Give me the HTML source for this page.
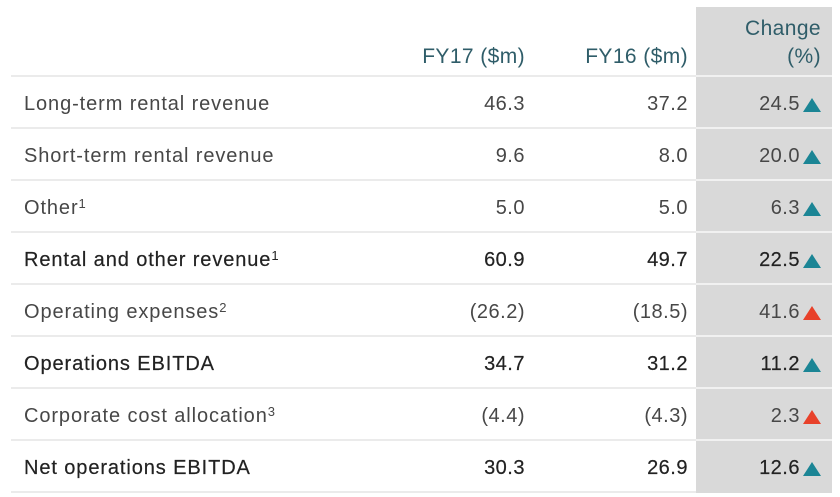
<!DOCTYPE html>
<html><head><meta charset="utf-8"><style>
html,body{margin:0;padding:0;background:#fff;}
body{width:840px;height:497px;position:relative;overflow:hidden;font-family:"Liberation Sans",sans-serif;}
.grey{position:absolute;left:696px;top:7px;width:136px;height:486px;background:#d9d9d9;}
.hl{position:absolute;left:11px;width:685px;height:2px;background:#ebebeb;}
.hlg{position:absolute;left:696px;width:136px;height:2px;background:#f1f1f1;}
.t{position:absolute;font-size:20px;letter-spacing:0.5px;white-space:nowrap;color:#474747;line-height:24px;}
.lab{left:24px;letter-spacing:0.9px;}
.v1{right:315px;text-align:right;}
.v2{right:152px;text-align:right;}
.v3{right:40px;text-align:right;}
.b{color:#222;-webkit-text-stroke:0.2px #222;}
.h{color:#2f5d69;font-size:21px;letter-spacing:0.4px;}
sup{font-size:13px;vertical-align:top;position:relative;top:-4px;letter-spacing:0;-webkit-text-stroke:0;}
svg.tri{position:absolute;left:803px;}
</style></head><body>
<div class="grey"></div>

<div class="t h v1" style="top:45px">FY17 ($m)</div>
<div class="t h v2" style="top:45px">FY16 ($m)</div>
<div class="t h" style="right:19px;top:17px;text-align:right;">Change</div>
<div class="t h" style="right:19px;top:45px;text-align:right;">(%)</div>

<div class="hl" style="top:75px"></div><div class="hlg" style="top:75px"></div>
<div class="hl" style="top:127px"></div><div class="hlg" style="top:127px"></div>
<div class="hl" style="top:179px"></div><div class="hlg" style="top:179px"></div>
<div class="hl" style="top:231px"></div><div class="hlg" style="top:231px"></div>
<div class="hl" style="top:283px"></div><div class="hlg" style="top:283px"></div>
<div class="hl" style="top:335px"></div><div class="hlg" style="top:335px"></div>
<div class="hl" style="top:387px"></div><div class="hlg" style="top:387px"></div>
<div class="hl" style="top:439px"></div><div class="hlg" style="top:439px"></div>
<div class="hl" style="top:491px"></div>

<!-- row 1 -->
<div class="t lab" style="top:92px">Long-term rental revenue</div>
<div class="t v1" style="top:92px">46.3</div>
<div class="t v2" style="top:92px">37.2</div>
<div class="t v3" style="top:92px">24.5</div>
<svg class="tri" style="top:98px" width="18" height="14"><polygon points="9,0 18,14 0,14" fill="#1b8595"/></svg>

<!-- row 2 -->
<div class="t lab" style="top:144px">Short-term rental revenue</div>
<div class="t v1" style="top:144px">9.6</div>
<div class="t v2" style="top:144px">8.0</div>
<div class="t v3" style="top:144px">20.0</div>
<svg class="tri" style="top:150px" width="18" height="14"><polygon points="9,0 18,14 0,14" fill="#1b8595"/></svg>

<!-- row 3 -->
<div class="t lab" style="top:196px">Other<sup>1</sup></div>
<div class="t v1" style="top:196px">5.0</div>
<div class="t v2" style="top:196px">5.0</div>
<div class="t v3" style="top:196px">6.3</div>
<svg class="tri" style="top:202px" width="18" height="14"><polygon points="9,0 18,14 0,14" fill="#1b8595"/></svg>

<!-- row 4 -->
<div class="t lab b" style="top:248px">Rental and other revenue<sup>1</sup></div>
<div class="t v1 b" style="top:248px">60.9</div>
<div class="t v2 b" style="top:248px">49.7</div>
<div class="t v3 b" style="top:248px">22.5</div>
<svg class="tri" style="top:254px" width="18" height="14"><polygon points="9,0 18,14 0,14" fill="#1b8595"/></svg>

<!-- row 5 -->
<div class="t lab" style="top:300px">Operating expenses<sup>2</sup></div>
<div class="t v1" style="top:300px">(26.2)</div>
<div class="t v2" style="top:300px">(18.5)</div>
<div class="t v3" style="top:300px">41.6</div>
<svg class="tri" style="top:306px" width="18" height="14"><polygon points="9,0 18,14 0,14" fill="#e8412a"/></svg>

<!-- row 6 -->
<div class="t lab b" style="top:352px">Operations EBITDA</div>
<div class="t v1 b" style="top:352px">34.7</div>
<div class="t v2 b" style="top:352px">31.2</div>
<div class="t v3 b" style="top:352px">11.2</div>
<svg class="tri" style="top:358px" width="18" height="14"><polygon points="9,0 18,14 0,14" fill="#1b8595"/></svg>

<!-- row 7 -->
<div class="t lab" style="top:404px">Corporate cost allocation<sup>3</sup></div>
<div class="t v1" style="top:404px">(4.4)</div>
<div class="t v2" style="top:404px">(4.3)</div>
<div class="t v3" style="top:404px">2.3</div>
<svg class="tri" style="top:410px" width="18" height="14"><polygon points="9,0 18,14 0,14" fill="#e8412a"/></svg>

<!-- row 8 -->
<div class="t lab b" style="top:456px">Net operations EBITDA</div>
<div class="t v1 b" style="top:456px">30.3</div>
<div class="t v2 b" style="top:456px">26.9</div>
<div class="t v3 b" style="top:456px">12.6</div>
<svg class="tri" style="top:462px" width="18" height="14"><polygon points="9,0 18,14 0,14" fill="#1b8595"/></svg>
</body></html>
